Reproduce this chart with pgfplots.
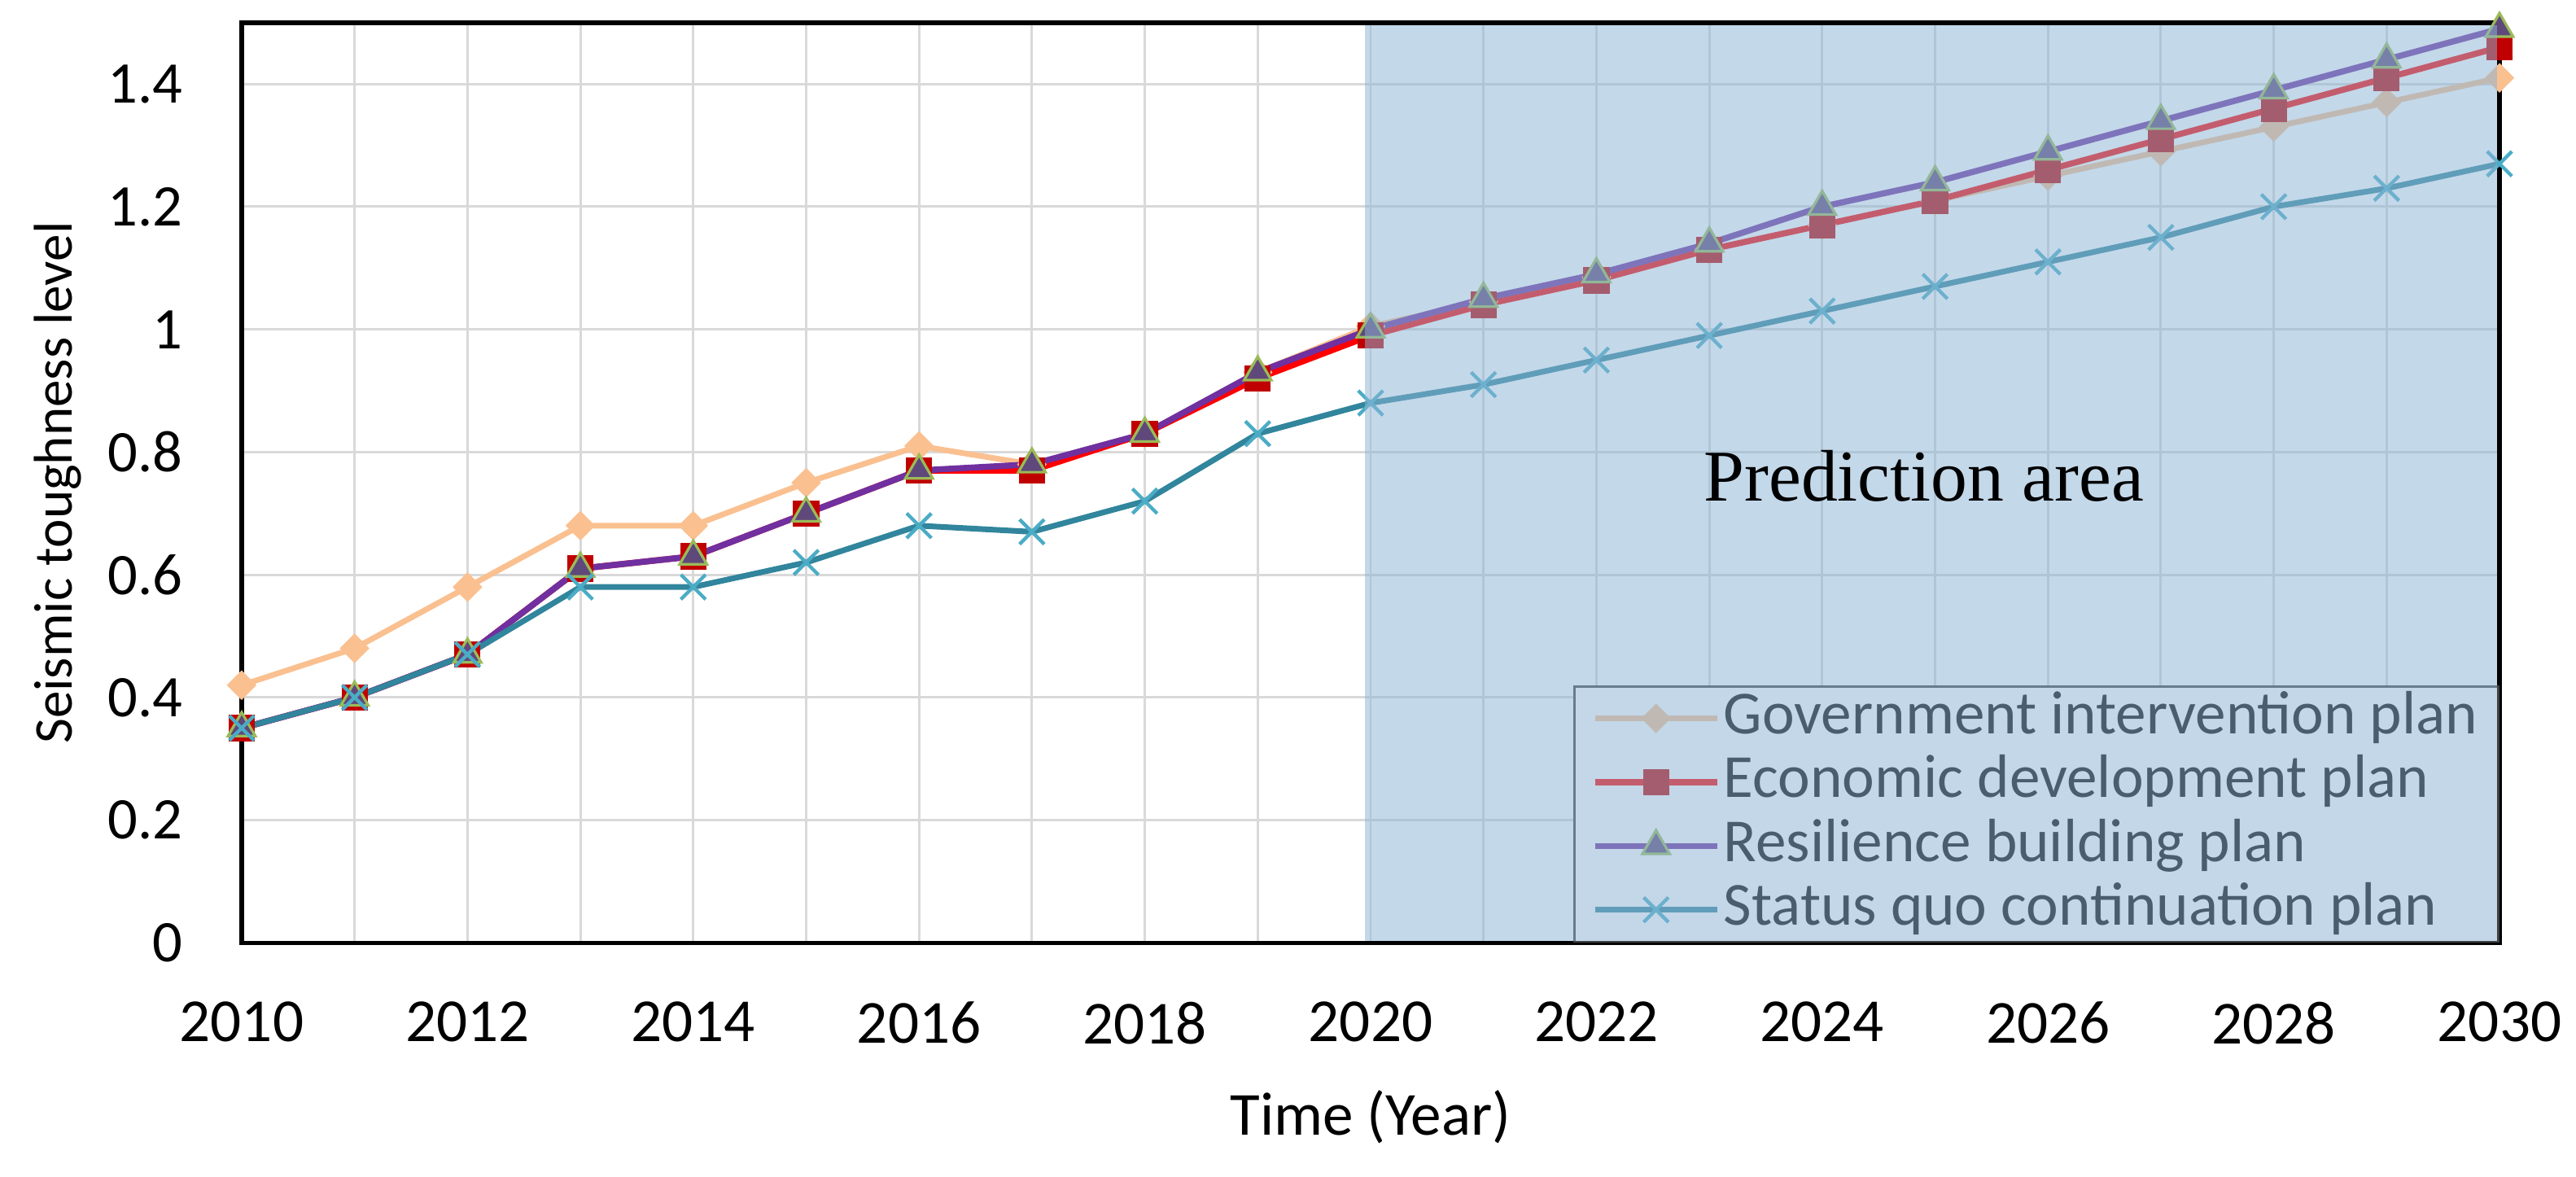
\documentclass[border=0pt]{standalone}
\usepackage{fontspec}
\setmainfont{Carlito}
\newfontfamily\predfont{Liberation Serif}
\usepackage{pgfplots}
\pgfplotsset{compat=1.18}

\definecolor{govc}{HTML}{FAC090}
\definecolor{ecoline}{HTML}{FF0000}
\definecolor{ecomark}{HTML}{C00000}
\definecolor{resline}{HTML}{7030A0}
\definecolor{resmark}{HTML}{5F497A}
\definecolor{resedge}{HTML}{9BBB59}
\definecolor{sqline}{HTML}{31859C}
\definecolor{sqmark}{HTML}{4BACC6}
\definecolor{gridc}{HTML}{D9D9D9}
\definecolor{predarea}{RGB}{140,180,212}

\begin{document}
\begin{tikzpicture}
\useasboundingbox (-55.3pt,-53.4pt) rectangle (534.1pt,215.7pt);
\begin{axis}[
  at={(0,0)}, anchor=south west,
  scale only axis,
  width=516.6pt, height=210.5pt,
  xmin=2010, xmax=2030, ymin=0, ymax=1.5,
  xtick={2010,2012,...,2030},
  minor xtick={2011,2013,...,2029},
  ytick={0,0.2,0.4,0.6,0.8,1,1.2,1.4},
  grid=both,
  major grid style={gridc, line width=0.55pt},
  minor grid style={gridc, line width=0.55pt},
  major tick length=0pt, minor tick length=0pt,
  axis line style={black, line width=1pt},
  clip=false,
  /pgf/number format/1000 sep={},
  /pgf/number format/assume math mode=true,
  xticklabel style={font=\fontsize{14}{14}\selectfont, yshift=-10pt},
  yticklabel style={font=\fontsize{13.5}{14}\selectfont, xshift=-10pt},
  xlabel={Time (Year)},
  xlabel style={font=\fontsize{14}{14}\selectfont, at={(rel axis cs:0.5,0)}, anchor=base, yshift=-44pt},
  ylabel={Seismic toughness level},
  ylabel style={font=\fontsize{12.5}{14}\selectfont, at={(rel axis cs:0,0.5)}, anchor=center, yshift=42pt},
  legend style={at={(1,0)}, anchor=south east, draw=black!75, line width=0.5pt,
    fill=white, font=\fontsize{14}{14}\selectfont, inner xsep=4pt, inner ysep=0pt,
    nodes={inner sep=0.8pt, text height=10pt, text depth=3pt}},
  legend cell align=left,
  legend image code/.code={\draw[mark repeat=2,mark phase=2,#1] plot coordinates {(0pt,0pt) (14pt,0pt) (28pt,0pt)};},
]
\addplot[govc, line width=1.3pt, mark=square*, mark size=2.2pt,
  mark options={rotate=45, fill=govc, draw=govc, line width=0.4pt}] coordinates {
  (2010,0.42) (2011,0.48) (2012,0.58) (2013,0.68) (2014,0.68) (2015,0.75)
  (2016,0.81) (2017,0.78) (2018,0.83) (2019,0.93) (2020,1.005) (2021,1.045)
  (2022,1.085) (2023,1.13) (2024,1.17) (2025,1.21) (2026,1.25) (2027,1.29)
  (2028,1.33) (2029,1.37) (2030,1.41)};
\addlegendentry{Government intervention plan}
\addplot[ecoline, line width=1.4pt, mark=square*, mark size=2.8pt,
  mark options={fill=ecomark, draw=ecomark, line width=0.4pt}] coordinates {
  (2010,0.35) (2011,0.40) (2012,0.47) (2013,0.61) (2014,0.63) (2015,0.70)
  (2016,0.77) (2017,0.77) (2018,0.83) (2019,0.92) (2020,0.99) (2021,1.04)
  (2022,1.08) (2023,1.13) (2024,1.17) (2025,1.21) (2026,1.26) (2027,1.31)
  (2028,1.36) (2029,1.41) (2030,1.46)};
\addlegendentry{Economic development plan}
\addplot[resline, line width=1.4pt, mark=triangle*, mark size=3.6pt,
  mark options={fill=resmark, draw=resedge, line width=0.6pt}] coordinates {
  (2010,0.35) (2011,0.40) (2012,0.47) (2013,0.61) (2014,0.63) (2015,0.70)
  (2016,0.77) (2017,0.78) (2018,0.83) (2019,0.93) (2020,1.00) (2021,1.05)
  (2022,1.09) (2023,1.14) (2024,1.20) (2025,1.24) (2026,1.29) (2027,1.34)
  (2028,1.39) (2029,1.44) (2030,1.49)};
\addlegendentry{Resilience building plan}
\addplot[sqline, line width=1.3pt, mark=x, mark size=4pt,
  mark options={draw=sqmark, line width=0.8pt}] coordinates {
  (2010,0.35) (2011,0.40) (2012,0.47) (2013,0.58) (2014,0.58) (2015,0.62)
  (2016,0.68) (2017,0.67) (2018,0.72) (2019,0.83) (2020,0.88) (2021,0.91)
  (2022,0.95) (2023,0.99) (2024,1.03) (2025,1.07) (2026,1.11) (2027,1.15)
  (2028,1.20) (2029,1.23) (2030,1.27)};
\addlegendentry{Status quo continuation plan}
\coordinate (p1) at (axis cs:2019.95,1.5);
\coordinate (p2) at (axis cs:2030,0);
\coordinate (ptxt) at (axis cs:2024.9,0.72);
\end{axis}
\fill[predarea, opacity=0.52] ([yshift=-0.5pt]p1) rectangle ([xshift=-0.5pt,yshift=0.5pt]p2);
\node[anchor=base, font=\predfont\fontsize{16.7}{18}\selectfont, inner sep=0pt] at (ptxt) {Prediction area};
\end{tikzpicture}
\end{document}
